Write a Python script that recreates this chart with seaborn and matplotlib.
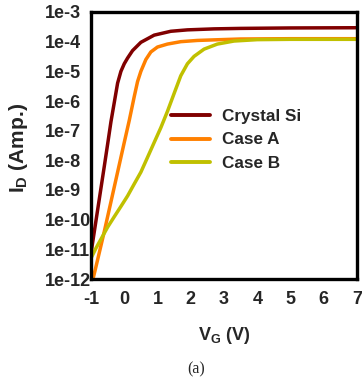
import numpy as np
import pandas as pd
import matplotlib
matplotlib.use("Agg")
import matplotlib.pyplot as plt
import matplotlib.ticker as mticker
import seaborn as sns

# Data: gate voltage (V) and drain current (A)
vg_si = [-1.0, -0.9, -0.75, -0.6, -0.5, -0.4, -0.3, -0.2, -0.1, 0.0, 0.1, 0.25, 0.5, 0.9, 1.4, 1.9, 2.7, 3.5, 5.0, 7.0]
id_si = [7.4e-12, 4.0e-11, 5.0e-10, 6.3e-9, 3.5e-8, 2.0e-7, 8.9e-7, 4.0e-6, 1.0e-5, 1.8e-5,
         2.8e-5, 5.0e-5, 9.5e-5, 1.66e-4, 2.24e-4, 2.5e-4, 2.7e-4, 2.8e-4, 2.9e-4, 2.95e-4]

vg_a = [-0.95, -0.8, -0.6, -0.4, -0.2, 0.0, 0.15, 0.3, 0.4, 0.5, 0.65, 0.8, 1.0, 1.3, 1.7, 2.2, 2.7, 3.5, 5.0, 7.0]
id_a = [8.9e-13, 4.5e-12, 4.0e-11, 4.0e-10, 4.0e-9, 4.0e-8, 2.2e-7, 1.4e-6, 4.5e-6, 1.0e-5,
        2.5e-5, 4.5e-5, 6.6e-5, 8.3e-5, 1.0e-4, 1.1e-4, 1.15e-4, 1.23e-4, 1.26e-4, 1.26e-4]

vg_b = [-1.0, -0.85, -0.7, -0.5, -0.3, -0.1, 0.1, 0.3, 0.5, 0.7, 0.9, 1.1, 1.3, 1.5, 1.7, 1.9,
        2.1, 2.4, 2.8, 3.3, 4.0, 5.0, 7.0]
id_b = [5.0e-12, 1.1e-11, 2.2e-11, 5.6e-11, 1.26e-10, 2.8e-10, 6.3e-10, 1.6e-9, 4.0e-9, 1.26e-8,
        4.0e-8, 1.26e-7, 4.5e-7, 1.8e-6, 7.1e-6, 1.8e-5, 3.2e-5, 5.6e-5, 8.3e-5, 1.05e-4,
        1.17e-4, 1.2e-4, 1.2e-4]

series_names = ["Crystal Si", "Case A", "Case B"]
colors = ["#800000", "#FF8000", "#C0C000"]

x_ticks = [-1, 0, 1, 2, 3, 4, 5, 6, 7]
y_ticks = [1e-12, 1e-11, 1e-10, 1e-9, 1e-8, 1e-7, 1e-6, 1e-5, 1e-4, 1e-3]
y_tick_labels = ["1e-12", "1e-11", "1e-10", "1e-9", "1e-8", "1e-7", "1e-6", "1e-5", "1e-4", "1e-3"]

df = pd.concat([
    pd.DataFrame({"VG": vg_si, "ID": id_si, "series": series_names[0]}),
    pd.DataFrame({"VG": vg_a, "ID": id_a, "series": series_names[1]}),
    pd.DataFrame({"VG": vg_b, "ID": id_b, "series": series_names[2]}),
], ignore_index=True)

sns.set_style("white")
plt.rcParams["font.family"] = ["Liberation Sans", "DejaVu Sans"]
plt.rcParams["mathtext.fontset"] = "custom"
plt.rcParams["mathtext.rm"] = "Liberation Sans:bold"
plt.rcParams["mathtext.bf"] = "Liberation Sans:bold"
plt.rcParams["mathtext.it"] = "Liberation Sans:bold"

fig = plt.figure(figsize=(3.62, 3.86), dpi=100)
ax = fig.add_axes([91/362, 1-279/386, 266/362, 267/386])

sns.lineplot(data=df, x="VG", y="ID", hue="series", palette=dict(zip(series_names, colors)),
             linewidth=2.5, ax=ax, sort=False, estimator=None, legend=True)
ax.set_yscale("log")
ax.set_xlim(-1, 7)
ax.set_ylim(1e-12, 1e-3)
ax.set_xticks(x_ticks)
ax.set_xticklabels([str(t) for t in x_ticks])
ax.yaxis.set_major_locator(mticker.FixedLocator(y_ticks))
ax.yaxis.set_major_formatter(mticker.FixedFormatter(y_tick_labels))
ax.yaxis.set_minor_locator(mticker.NullLocator())

ax.tick_params(axis="both", direction="in", length=3, width=2, color="black")
ax.tick_params(axis="y", pad=33.5)
ax.tick_params(axis="x", pad=9)
for lbl in ax.get_xticklabels():
    lbl.set_fontweight("bold")
    lbl.set_fontsize(13)
for lbl in ax.get_yticklabels():
    lbl.set_fontweight("bold")
    lbl.set_fontsize(13)
    lbl.set_horizontalalignment("left")
for s in ax.spines.values():
    s.set_color("black")
    s.set_linewidth(2.4)

ax.set_xlabel("")
ax.set_ylabel("")
fig.text(224/362, 1-336/386, r"$\mathrm{V_G}$ (V)", ha="center", va="center",
         fontsize=13, fontweight="bold")
fig.text(19/362, 1-148/386, r"$\mathrm{I_D}$ (Amp.)", ha="center", va="center",
         fontsize=15, fontweight="bold", rotation=90)

leg = ax.legend(frameon=False, loc="center left", bbox_to_anchor=((171-91)/266, (279-140)/267),
                handlelength=2.3, handletextpad=0.7, labelspacing=0.47,
                prop={"weight": "bold", "size": 12.3}, borderaxespad=0, borderpad=0)
for line in leg.get_lines():
    line.set_linewidth(2.8)

fig.text(196/362, 1-369/386, "(a)", ha="center", va="center", fontsize=11.5,
         family=["Liberation Serif", "DejaVu Serif"])

fig.savefig("out.png", dpi=100)
